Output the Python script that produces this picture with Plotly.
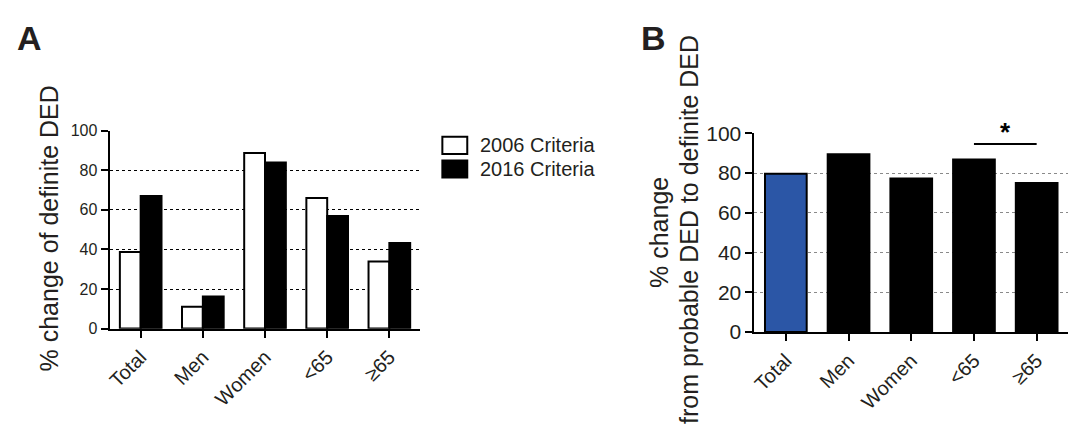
import plotly.graph_objects as go

categories = ["Total", "Men", "Women", "<65", "≥65"]
criteria_2006 = [38.7, 11.0, 88.7, 65.9, 33.9]
criteria_2016 = [66.9, 16.2, 83.9, 56.8, 43.2]
change_b = [79.7, 89.5, 77.3, 86.8, 75.0]
b_colors = ["#2b56a6", "#000000", "#000000", "#000000", "#000000"]
yticks = [0, 20, 40, 60, 80, 100]
sig_pair = [3, 4]
sig_y = 94.6

W, H = 1072, 426
FONT = "Arial, Liberation Sans, Helvetica, sans-serif"
TXT = "#231f20"

def px_x(p):
    return p / W

def px_y(p):
    return 1 - p / H

fig = go.Figure()
fig.add_trace(go.Bar(x=list(range(5)), y=criteria_2006, name="2006 Criteria",
                     marker=dict(color="white", line=dict(color="black", width=2)),
                     xaxis="x", yaxis="y", offsetgroup="a1", showlegend=False))
fig.add_trace(go.Bar(x=list(range(5)), y=criteria_2016, name="2016 Criteria",
                     marker=dict(color="black", line=dict(color="black", width=2)),
                     xaxis="x", yaxis="y", offsetgroup="a2", showlegend=False))
fig.add_trace(go.Bar(x=list(range(5)), y=change_b, name="change",
                     marker=dict(color=b_colors, line=dict(color="black", width=2)),
                     xaxis="x2", yaxis="y2", width=0.665, showlegend=False))

common_x = dict(range=[-0.5, 4.5], tickmode="array", tickvals=list(range(5)),
                ticktext=categories, tickangle=-45, showline=True, linecolor="black",
                linewidth=2, ticks="outside", ticklen=7, tickwidth=2, tickcolor="black",
                showgrid=False, zeroline=False, fixedrange=True,
                tickfont=dict(family=FONT, size=20, color=TXT))

common_y = dict(range=[0, 100], tickmode="array", tickvals=yticks,
                ticktext=[str(v) for v in yticks], showline=True, linecolor="black",
                linewidth=2, ticks="outside", ticklen=7, tickwidth=2, tickcolor="black",
                showgrid=True, griddash="dot", gridwidth=1, zeroline=False, fixedrange=True)

fig.update_layout(
    width=W, height=H,
    margin=dict(l=0, r=0, t=0, b=0),
    paper_bgcolor="white", plot_bgcolor="white",
    barmode="group", bargap=0.33, bargroupgap=0,
    showlegend=False,
    xaxis=dict(domain=[px_x(106), px_x(418)], anchor="y", **common_x),
    yaxis=dict(domain=[px_y(334.7), px_y(125.3)], anchor="x", gridcolor="black",
               tickfont=dict(family=FONT, size=16, color=TXT), **common_y),
    xaxis2=dict(domain=[px_x(753.3), px_x(1068)], anchor="y2", **common_x),
    yaxis2=dict(domain=[px_y(338.3), px_y(128.3)], anchor="x2", gridcolor="#8a8a8a",
                tickfont=dict(family=FONT, size=21, color=TXT), **common_y),
)

# significance bar
fig.add_shape(type="line", xref="x2", yref="y2", x0=sig_pair[0], x1=sig_pair[1],
              y0=sig_y, y1=sig_y, line=dict(color="black", width=2))

ann = []
ann.append(dict(xref="x2", yref="y2", x=(sig_pair[0] + sig_pair[1]) / 2, y=sig_y - 2.5,
                text="<b>*</b>", showarrow=False, yanchor="bottom",
                font=dict(family=FONT, size=26, color="black")))
# panel letters
ann.append(dict(xref="paper", yref="paper", x=px_x(25.5), y=px_y(27.5), text="<b>A</b>",
                showarrow=False, xanchor="center", yanchor="middle",
                font=dict(family=FONT, size=34, color=TXT)))
ann.append(dict(xref="paper", yref="paper", x=px_x(652), y=px_y(27.5), text="<b>B</b>",
                showarrow=False, xanchor="center", yanchor="middle",
                font=dict(family=FONT, size=34, color=TXT)))
# axis titles
ann.append(dict(xref="paper", yref="paper", x=px_x(45), y=px_y(229), text="% change of definite DED",
                showarrow=False, xanchor="center", yanchor="middle", textangle=-90,
                font=dict(family=FONT, size=25, color=TXT)))
ann.append(dict(xref="paper", yref="paper", x=px_x(658), y=px_y(233), text="% change",
                showarrow=False, xanchor="center", yanchor="middle", textangle=-90,
                font=dict(family=FONT, size=25, color=TXT)))
ann.append(dict(xref="paper", yref="paper", x=px_x(687), y=px_y(230), text="from probable DED to definite DED",
                showarrow=False, xanchor="center", yanchor="middle", textangle=-90,
                font=dict(family=FONT, size=25, color=TXT)))
# legend
legend_items = [("2006 Criteria", "white", 141), ("2016 Criteria", "black", 166)]
for label, col, yc in legend_items:
    fig.add_shape(type="rect", xref="paper", yref="paper",
                  x0=px_x(440), x1=px_x(465), y0=px_y(yc - 9), y1=px_y(yc + 9),
                  fillcolor=col, line=dict(color="black", width=2))
    ann.append(dict(xref="paper", yref="paper", x=px_x(476), y=px_y(yc), text=label,
                    showarrow=False, xanchor="left", yanchor="middle",
                    font=dict(family=FONT, size=20, color=TXT)))
fig.update_layout(annotations=ann)

fig.write_html("out.html", config={"displayModeBar": False, "staticPlot": True},
               post_script="document.body.style.margin='0';document.body.style.overflow='hidden';")
